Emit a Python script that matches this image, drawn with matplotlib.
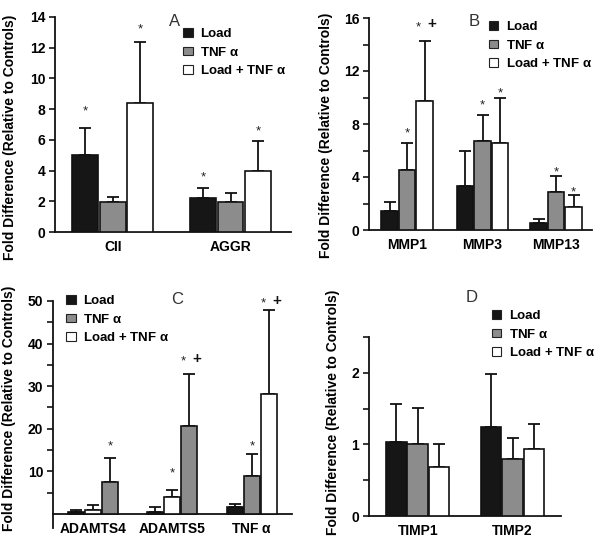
import matplotlib
matplotlib.use("Agg")
import matplotlib.pyplot as plt
from matplotlib.patches import Patch
from matplotlib.ticker import FixedLocator

plt.rcParams['font.family'] = ['Liberation Sans', 'DejaVu Sans']
plt.rcParams['mathtext.fontset'] = 'custom'
plt.rcParams['mathtext.rm'] = 'Liberation Sans'

# ---------------- data ----------------
series_labels = ["Load", "TNF $\\mathregular{\\alpha}$", "Load + TNF $\\mathregular{\\alpha}$"]

# Panel A
a_cats = ["CII", "AGGR"]
a_load = [5.0, 2.2]
a_load_err = [1.8, 0.65]
a_tnf = [1.95, 1.95]
a_tnf_err = [0.35, 0.6]
a_both = [8.4, 3.96]
a_both_err = [4.0, 1.95]
a_star_load = [8.2, 3.9]
a_star_tnf = [None, None]
a_star_both = [13.5, 6.9]
a_plus_both = [False, False]

# Panel B
b_cats = ["MMP1", "MMP3", "MMP13"]
b_load = [1.4, 3.3, 0.5]
b_load_err = [0.75, 2.7, 0.36]
b_tnf = [4.55, 6.7, 2.87]
b_tnf_err = [2.0, 2.0, 1.18]
b_both = [9.75, 6.6, 1.7]
b_both_err = [4.55, 3.36, 0.92]
b_star_load = [None, None, None]
b_star_tnf = [7.7, 9.8, 4.7]
b_star_both = [15.7, 10.7, 3.2]
b_plus_both = [True, False, False]

# Panel C
c_cats = ["ADAMTS4", "ADAMTS5", "TNF $\\mathregular{\\alpha}$"]
c_load = [0.45, 0.55, 1.55]
c_load_err = [0.55, 1.1, 0.85]
c_tnf = [7.6, 20.75, 8.95]
c_tnf_err = [5.5, 12.0, 5.1]
c_both = [0.85, 4.0, 28.1]
c_both_err = [1.35, 1.7, 19.7]
c_star_load = [None, None, None]
c_star_tnf = [17.0, 36.9, 17.0]
c_star_both = [None, 10.8, 50.5]
c_plus_tnf = [False, True, False]
c_plus_both = [False, False, True]

# Panel D
d_cats = ["TIMP1", "TIMP2"]
d_load = [1.04, 1.25]
d_load_err = [0.52, 0.73]
d_tnf = [1.0, 0.8]
d_tnf_err = [0.51, 0.29]
d_both = [0.68, 0.94]
d_both_err = [0.32, 0.35]

# ---------------- style ----------------
colors = ["#161616", "#8c8c8c", "#ffffff"]
W, H = 600, 541
fig = plt.figure(figsize=(6.0, 5.41), dpi=100)


def axes_px(left, top, right, bottom):
    return fig.add_axes([left / W, 1 - bottom / H, (right - left) / W, (bottom - top) / H])


def draw_panel(ax, cats, vals, errs, stars, pluses, centers, slots, width,
               xlim, ylim, major, minor, labelmajor, ylab_xy, zero_spine=False):
    if zero_spine:
        ax.spines["bottom"].set_position(("data", 0))
    for s in range(3):
        xs = [centers[g] + (slots[g][s] - 1) for g in range(len(cats))]
        ax.bar(xs, vals[s], width=width, color=colors[s], edgecolor="#111111",
               linewidth=1.2, zorder=3)
        ax.errorbar(xs, vals[s], yerr=[[0] * len(xs), errs[s]], fmt="none",
                    ecolor="#111111", elinewidth=1.3, capsize=4.5, capthick=1.3, zorder=2)
        for g, x in enumerate(xs):
            sy = stars[s][g]
            if sy is None:
                continue
            has_plus = pluses[s][g]
            dx = -4.5 if has_plus else 0
            ax.annotate("*", (x, sy), xytext=(dx, -5.8), textcoords="offset points",
                        ha="center", va="baseline", fontsize=9.5, color="#222222",
                        annotation_clip=False)
            if has_plus:
                ax.annotate("+", (x, sy), xytext=(5.5, -4.3), textcoords="offset points",
                            ha="center", va="baseline", fontsize=11, fontweight="bold",
                            color="#111111", annotation_clip=False)
    ax.set_xlim(*xlim)
    ax.set_ylim(*ylim)
    ax.set_xticks(centers)
    ax.set_xticklabels(cats, fontsize=10, fontweight="bold")
    ax.tick_params(axis="x", length=0, pad=6)
    ax.yaxis.set_major_locator(FixedLocator(major))
    ax.yaxis.set_minor_locator(FixedLocator(minor))
    ax.set_yticklabels([str(v) if v in labelmajor else "" for v in major],
                       fontsize=10, fontweight="bold")
    ax.tick_params(axis="y", which="both", length=4, width=1.1, direction="out", pad=3)
    for sp in ["top", "right"]:
        ax.spines[sp].set_visible(False)
    for sp in ["left", "bottom"]:
        ax.spines[sp].set_linewidth(1.3)
        ax.spines[sp].set_color("#111111")
    ax.set_ylabel("Fold Difference (Relative to Controls)", fontsize=10, fontweight="bold")
    ax.yaxis.set_label_coords(*ylab_xy)
    ax.set_facecolor("none")


def add_legend(ax, left_px, top_px):
    handles = [Patch(facecolor=c, edgecolor="#222222", linewidth=0.8) for c in colors]
    ax.legend(handles, series_labels, loc="upper left",
              bbox_to_anchor=(left_px / W, 1 - top_px / H), bbox_transform=fig.transFigure,
              frameon=False, borderpad=0, borderaxespad=0, handlelength=0.72,
              handleheight=0.62, handletextpad=0.55, labelspacing=0.42,
              prop={"weight": "bold", "size": 9.5})


# Panel A
axA = axes_px(55, 17, 291, 232)
pA = 27.3
draw_panel(axA, a_cats, [a_load, a_tnf, a_both], [a_load_err, a_tnf_err, a_both_err],
           [a_star_load, a_star_tnf, a_star_both], [[False] * 2, [False] * 2, a_plus_both],
           [57.7 / pA, 175.5 / pA], [[0, 1, 2]] * 2, 0.95, (0, 236 / pA), (0, 14),
           [0, 2, 4, 6, 8, 10, 12, 14], [], [0, 2, 4, 6, 8, 10, 12, 14], (-0.163, 0.44))
add_legend(axA, 183, 28)
fig.text(175 / W, 1 - 22 / H, "A", fontsize=12, ha="center", va="center", color="#333333")

# Panel B
axB = axes_px(369, 18, 592, 230)
pB = 17.5
draw_panel(axB, b_cats, [b_load, b_tnf, b_both], [b_load_err, b_tnf_err, b_both_err],
           [b_star_load, b_star_tnf, b_star_both], [[False] * 3, [False] * 3, b_plus_both],
           [38 / pB, 113.5 / pB, 187 / pB], [[0, 1, 2]] * 3, 0.93, (0, 223 / pB), (0, 16),
           [0, 4, 8, 12, 16], [2, 6, 10, 14], [0, 4, 8, 12, 16], (-0.16, 0.448))
add_legend(axB, 489, 21)
fig.text(474 / W, 1 - 21 / H, "B", fontsize=12, ha="center", va="center", color="#333333")

# Panel C
axC = axes_px(53, 301, 292, 528)
pC = 17.05
draw_panel(axC, c_cats, [c_load, c_tnf, c_both], [c_load_err, c_tnf_err, c_both_err],
           [c_star_load, c_star_tnf, c_star_both], [[False] * 3, c_plus_tnf, c_plus_both],
           [40 / pC, 119 / pC, 199 / pC], [[0, 2, 1], [0, 2, 1], [0, 1, 2]], 0.96,
           (0, 239 / pC), (-3.3, 50),
           [10, 20, 30, 40, 50], [5, 15, 25, 35, 45], [10, 20, 30, 40, 50], (-0.153, 0.526),
           zero_spine=True)
add_legend(axC, 66, 295)
fig.text(177 / W, 1 - 299 / H, "C", fontsize=12, ha="center", va="center", color="#333333")

# Panel D
axD = axes_px(369, 337, 561, 516)
pD = 21.3
draw_panel(axD, d_cats, [d_load, d_tnf, d_both], [d_load_err, d_tnf_err, d_both_err],
           [[None] * 2] * 3, [[False] * 2] * 3,
           [48.7 / pD, 143.5 / pD], [[0, 1, 2]] * 2, 0.96, (0, 192 / pD), (0, 2.5),
           [0, 1, 2], [0.5, 1.5, 2.5], [0, 1, 2], (-0.149, 0.58))
add_legend(axD, 492, 310)
fig.text(472 / W, 1 - 297 / H, "D", fontsize=12, ha="center", va="center", color="#333333")

fig.savefig("out.png", dpi=100, facecolor="white")
